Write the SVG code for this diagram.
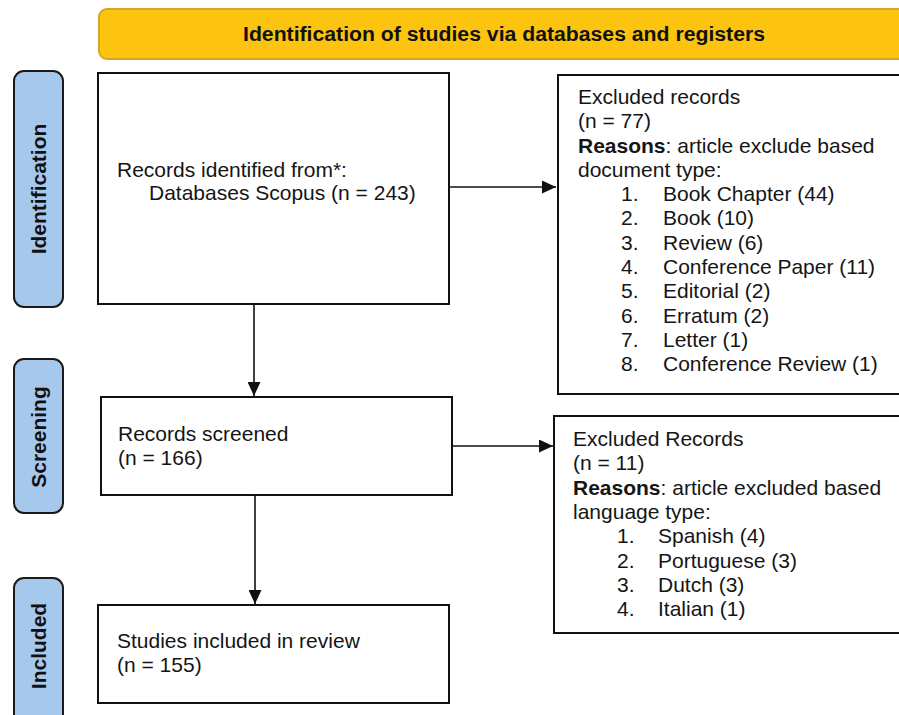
<svg xmlns="http://www.w3.org/2000/svg" width="899" height="715" viewBox="0 0 899 715">
  <style>
    .box { fill: #ffffff; stroke: #111111; stroke-width: 2; }
    .phase { fill: #a6c8ec; stroke: #1a1a1a; stroke-width: 2; }
    .phase-label { font-family: "Liberation Sans", Arial, sans-serif; font-weight: bold; font-size: 21px; fill: #111111; text-anchor: middle; }
    .txt { font-family: "Liberation Sans", Arial, sans-serif; font-size: 21px; fill: #151515; }
    .b { font-weight: bold; }
    .conn { stroke: #111111; stroke-width: 1.6; fill: none; marker-end: url(#arrow); }
  </style>
  <defs>
    <marker id="arrow" markerWidth="14" markerHeight="13" refX="14" refY="6.5" orient="auto" markerUnits="userSpaceOnUse">
      <path d="M0,0 L14,6.5 L0,13 Z" fill="#111111"/>
    </marker>
  </defs>

  <rect width="899" height="715" fill="#ffffff"/>

  <!-- header banner -->
  <g id="header">
    <rect x="99" y="9" width="820" height="50" rx="8" fill="#fcc40e" stroke="#d6a622" stroke-width="2"/>
    <text x="504" y="41" font-family="'Liberation Sans', Arial, sans-serif" font-weight="bold" font-size="20" fill="#111111" text-anchor="middle" textLength="522" lengthAdjust="spacingAndGlyphs">Identification of studies via databases and registers</text>
  </g>

  <!-- phase labels -->
  <g id="phase-identification">
    <rect class="phase" x="14" y="71" width="49" height="236" rx="10"/>
    <text class="phase-label" transform="translate(46,189) rotate(-90)">Identification</text>
  </g>
  <g id="phase-screening">
    <rect class="phase" x="14" y="359" width="49" height="154" rx="10"/>
    <text class="phase-label" transform="translate(46,437) rotate(-90)">Screening</text>
  </g>
  <g id="phase-included">
    <rect class="phase" x="14" y="578" width="49" height="160" rx="10"/>
    <text class="phase-label" transform="translate(46,646) rotate(-90)">Included</text>
  </g>

  <!-- flow boxes -->
  <g id="records-identified">
    <rect class="box" x="98" y="73" width="351" height="231"/>
    <text class="txt" x="117" y="177">Records identified from*:</text>
    <text class="txt" x="149" y="200">Databases Scopus (n = 243)</text>
  </g>

  <g id="excluded-records">
    <rect class="box" x="558" y="75" width="360" height="319"/>
    <text class="txt" x="578" y="104">Excluded records</text>
    <text class="txt" x="578" y="128">(n = 77)</text>
    <text class="txt" x="578" y="153"><tspan class="b">Reasons</tspan>: article exclude based</text>
    <text class="txt" x="578" y="177">document type:</text>
    <text class="txt" x="621" y="201">1.</text><text class="txt" x="663" y="201">Book Chapter (44)</text>
    <text class="txt" x="621" y="225">2.</text><text class="txt" x="663" y="225">Book (10)</text>
    <text class="txt" x="621" y="250">3.</text><text class="txt" x="663" y="250">Review (6)</text>
    <text class="txt" x="621" y="274">4.</text><text class="txt" x="663" y="274">Conference Paper (11)</text>
    <text class="txt" x="621" y="298">5.</text><text class="txt" x="663" y="298">Editorial (2)</text>
    <text class="txt" x="621" y="323">6.</text><text class="txt" x="663" y="323">Erratum (2)</text>
    <text class="txt" x="621" y="347">7.</text><text class="txt" x="663" y="347">Letter (1)</text>
    <text class="txt" x="621" y="371">8.</text><text class="txt" x="663" y="371">Conference Review (1)</text>
  </g>

  <g id="records-screened">
    <rect class="box" x="101" y="397" width="351" height="98"/>
    <text class="txt" x="118" y="441">Records screened</text>
    <text class="txt" x="118" y="465">(n = 166)</text>
  </g>

  <g id="excluded-language">
    <rect class="box" x="554" y="416" width="360" height="217"/>
    <text class="txt" x="573" y="446">Excluded Records</text>
    <text class="txt" x="573" y="470">(n = 11)</text>
    <text class="txt" x="573" y="495"><tspan class="b">Reasons</tspan>: article excluded based</text>
    <text class="txt" x="573" y="519">language type:</text>
    <text class="txt" x="617" y="543">1.</text><text class="txt" x="658" y="543">Spanish (4)</text>
    <text class="txt" x="617" y="568">2.</text><text class="txt" x="658" y="568">Portuguese (3)</text>
    <text class="txt" x="617" y="592">3.</text><text class="txt" x="658" y="592">Dutch (3)</text>
    <text class="txt" x="617" y="616">4.</text><text class="txt" x="658" y="616">Italian (1)</text>
  </g>

  <g id="studies-included">
    <rect class="box" x="98" y="605" width="351" height="98"/>
    <text class="txt" x="117" y="648">Studies included in review</text>
    <text class="txt" x="117" y="672">(n = 155)</text>
  </g>

  <!-- connectors -->
  <g id="connectors">
    <line class="conn" x1="449" y1="187" x2="556" y2="187"/>
    <line class="conn" x1="254" y1="304" x2="254" y2="396"/>
    <line class="conn" x1="452" y1="446" x2="553" y2="446"/>
    <line class="conn" x1="255" y1="495" x2="255" y2="604"/>
  </g>
</svg>
